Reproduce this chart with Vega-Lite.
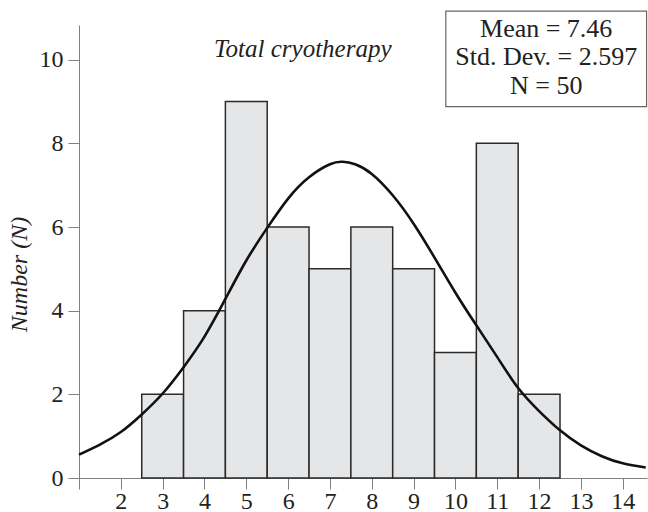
{
  "$schema": "https://vega.github.io/schema/vega-lite/v6.json",
  "width": 568,
  "height": 453,
  "autosize": {"type": "none"},
  "padding": {"left": 79, "top": 25, "right": 1, "bottom": 34},
  "background": "white",
  "config": {"view": {"stroke": null}, "font": "Liberation Serif"},
  "datasets": {
    "bars": [
      {"lo": 2.5, "hi": 3.5, "n": 2},
      {"lo": 3.5, "hi": 4.5, "n": 4},
      {"lo": 4.5, "hi": 5.5, "n": 9},
      {"lo": 5.5, "hi": 6.5, "n": 6},
      {"lo": 6.5, "hi": 7.5, "n": 5},
      {"lo": 7.5, "hi": 8.5, "n": 6},
      {"lo": 8.5, "hi": 9.5, "n": 5},
      {"lo": 9.5, "hi": 10.5, "n": 3},
      {"lo": 10.5, "hi": 11.5, "n": 8},
      {"lo": 11.5, "hi": 12.5, "n": 2}
    ],
    "curve": [
      {"x": 1.0, "y": 0.56},
      {"x": 1.5, "y": 0.8},
      {"x": 2.0, "y": 1.1},
      {"x": 2.5, "y": 1.52},
      {"x": 3.0, "y": 2.02},
      {"x": 3.5, "y": 2.65},
      {"x": 4.0, "y": 3.38},
      {"x": 4.5, "y": 4.28},
      {"x": 5.0, "y": 5.2},
      {"x": 5.5, "y": 5.98},
      {"x": 6.0, "y": 6.68},
      {"x": 6.5, "y": 7.19},
      {"x": 7.0, "y": 7.5},
      {"x": 7.3, "y": 7.56},
      {"x": 7.6, "y": 7.5},
      {"x": 8.0, "y": 7.27},
      {"x": 8.5, "y": 6.76},
      {"x": 9.0, "y": 6.08},
      {"x": 9.5, "y": 5.27},
      {"x": 10.0, "y": 4.43},
      {"x": 10.5, "y": 3.65},
      {"x": 11.0, "y": 2.89},
      {"x": 11.5, "y": 2.15},
      {"x": 12.0, "y": 1.6},
      {"x": 12.5, "y": 1.14},
      {"x": 13.0, "y": 0.78},
      {"x": 13.5, "y": 0.52},
      {"x": 14.0, "y": 0.35},
      {"x": 14.55, "y": 0.25}
    ]
  },
  "layer": [
    {
      "data": {"name": "bars"},
      "mark": {"type": "rect", "fill": "#e5e6e8", "stroke": "#2b2b2b", "strokeWidth": 1.5},
      "encoding": {
        "x": {
          "field": "lo",
          "type": "quantitative",
          "scale": {"domain": [1, 14.58], "nice": false, "zero": false},
          "axis": {
            "values": [1, 2, 3, 4, 5, 6, 7, 8, 9, 10, 11, 12, 13, 14],
            "labelExpr": "datum.value == 1 ? '' : datum.label",
            "format": "d",
            "grid": false,
            "title": null,
            "domainColor": "#808080",
            "tickColor": "#808080",
            "tickSize": 11,
            "labelFont": "Liberation Serif",
            "labelFontSize": 24,
            "labelColor": "#222222",
            "labelPadding": 0,
            "labelFlush": false
          }
        },
        "x2": {"field": "hi"},
        "y": {
          "field": "n",
          "type": "quantitative",
          "scale": {"domain": [0, 10.83], "nice": false},
          "axis": {
            "values": [0, 2, 4, 6, 8, 10],
            "grid": false,
            "title": "Number (N)",
            "titleFont": "Liberation Serif",
            "titleFontStyle": "italic",
            "titleFontWeight": "normal",
            "titleFontSize": 24,
            "titleColor": "#222222",
            "titleAngle": -90,
            "titleAlign": "center",
            "titleBaseline": "middle",
            "titleX": -60,
            "titleY": 249,
            "domainColor": "#808080",
            "tickColor": "#808080",
            "tickSize": 11,
            "labelFont": "Liberation Serif",
            "labelFontSize": 24,
            "labelColor": "#222222",
            "labelPadding": 5
          }
        },
        "y2": {"datum": 0}
      }
    },
    {
      "data": {"name": "curve"},
      "mark": {"type": "line", "stroke": "#111111", "strokeWidth": 2.6, "interpolate": "natural"},
      "encoding": {
        "x": {"field": "x", "type": "quantitative"},
        "y": {"field": "y", "type": "quantitative"}
      }
    },
    {
      "data": {"values": [{}]},
      "mark": {"type": "rect", "fill": "white", "stroke": "#666666", "strokeWidth": 1.2},
      "encoding": {
        "x": {"datum": 9.77, "type": "quantitative"},
        "x2": {"datum": 14.57},
        "y": {"datum": 8.88, "type": "quantitative"},
        "y2": {"datum": 11.16}
      }
    },
    {
      "data": {"values": [{}]},
      "mark": {
        "type": "text",
        "text": ["Mean = 7.46", "Std. Dev. = 2.597", "N = 50"],
        "font": "Liberation Serif",
        "fontSize": 26,
        "lineHeight": 28.3,
        "align": "center",
        "baseline": "alphabetic",
        "color": "#222222"
      },
      "encoding": {
        "x": {"datum": 12.17, "type": "quantitative"},
        "y": {"datum": 10.54, "type": "quantitative"}
      }
    },
    {
      "data": {"values": [{}]},
      "mark": {
        "type": "text",
        "text": "Total cryotherapy",
        "font": "Liberation Serif",
        "fontStyle": "italic",
        "fontSize": 25,
        "align": "center",
        "baseline": "alphabetic",
        "color": "#222222"
      },
      "encoding": {
        "x": {"datum": 6.35, "type": "quantitative"},
        "y": {"datum": 10.06, "type": "quantitative"}
      }
    }
  ]
}
